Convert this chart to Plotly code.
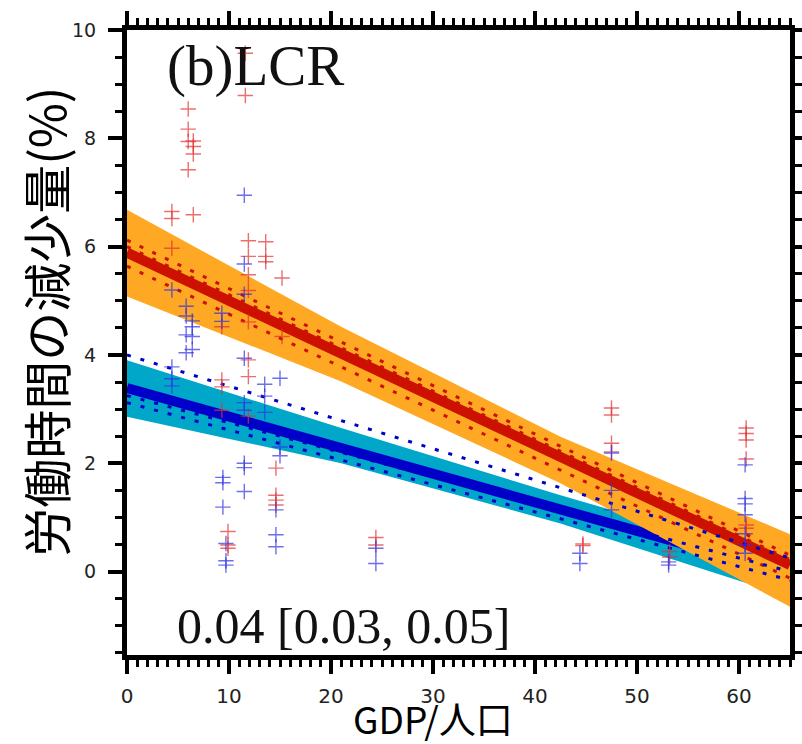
import plotly.graph_objects as go

# ---------------- data ----------------
red_x = [4.4, 4.4, 4.4,
         6.0, 6.0, 6.0, 6.0,
         6.5, 6.5, 6.5, 6.5,
         9.3, 9.3, 9.3, 9.3,
         9.9, 9.9, 9.9,
         11.6, 11.6,
         11.9, 11.9, 11.9, 11.9, 11.9, 11.9, 11.9, 11.9,
         13.6, 13.6, 13.6,
         14.6, 14.6, 14.6, 14.6,
         15.2, 15.2,
         24.4, 24.4,
         44.7, 44.7,
         47.5, 47.5, 47.5, 47.5,
         53.2, 53.2,
         60.7, 60.7, 60.7, 60.7, 60.7, 60.7]
red_y = [6.65, 6.52, 5.97,
         8.54, 8.17, 7.94, 7.42,
         7.95, 7.85, 7.71, 6.59,
         4.52, 3.54, 3.41, 2.98,
         0.74, 0.49, 0.43,
         9.57, 8.79,
         6.11, 5.82, 5.48, 5.19, 4.61, 3.91, 3.60, 2.87,
         6.09, 5.82, 5.72,
         1.91, 1.41, 1.32, 1.23,
         5.42, 4.34,
         0.63, 0.49,
         0.51, 0.48,
         3.02, 2.89, 2.37, 2.21,
         0.37, 0.27,
         2.65, 2.55, 2.43, 2.08, 0.86, 0.80]

blue_x = [4.4, 4.4, 4.4, 4.4,
          5.8, 5.8, 5.8, 5.8,
          6.4, 6.4, 6.4, 6.4,
          9.3, 9.3,
          9.4, 9.4, 9.4,
          9.7, 9.7, 9.7,
          11.5, 11.5, 11.5, 11.5, 11.5, 11.5, 11.5, 11.5, 11.5,
          13.5, 13.5, 13.5,
          15.0, 15.0, 15.0,
          14.6, 14.6, 14.6,
          24.4, 24.4,
          44.4, 44.4,
          47.5, 47.5, 47.5,
          53.1, 53.1,
          60.6, 60.6, 60.6, 60.6, 60.6, 60.6, 60.6]
blue_y = [5.20, 3.78, 3.56, 3.43,
          4.90, 4.72, 4.37, 4.04,
          4.63, 4.52, 4.34, 4.10,
          4.77, 4.62,
          1.74, 1.64, 1.19,
          0.52, 0.20, 0.12,
          6.95, 5.68, 5.12, 3.94, 3.12, 2.98, 2.00, 1.92, 1.48,
          3.46, 3.24, 2.94,
          3.57, 2.30, 2.14,
          1.14, 0.68, 0.46,
          0.43, 0.15,
          0.34, 0.15,
          2.19, 1.50, 1.14,
          0.18, 0.12,
          1.97, 1.35, 1.25, 1.05, 0.70, 0.50, 0.34]

# confidence bands
orange_x = [0, 21, 42.5, 65]
orange_top = [6.68, 4.52, 2.49, 0.69]
orange_bot = [5.08, 3.51, 1.63, -0.65]

cyan_x = [0, 21, 42.5, 60.4, 65]
cyan_top = [3.90, 2.65, 1.41, 0.43, 0.18]
cyan_bot = [2.86, 2.00, 0.89, -0.19, -0.45]

# regression lines (start x=0, end x=65)
line_x = [0, 65]
red_fit = [5.89, 0.12]
blue_fit = [3.39, -0.04]
red_members = [[6.12, 0.30], [6.00, 0.22], [5.64, -0.12]]
blue_members = [[4.00, 0.25], [3.25, 0.00], [3.12, -0.16]]

x_ticks = [0, 10, 20, 30, 40, 50, 60]
y_ticks = [0, 2, 4, 6, 8, 10]

ORANGE = "#FFA823"
CYAN = "#00A7C9"
RED = "#CC1100"
BLUE = "#0000C8"

fig = go.Figure()

# cyan band
fig.add_trace(go.Scatter(x=cyan_x + cyan_x[::-1], y=cyan_top + cyan_bot[::-1],
                         fill="toself", fillcolor=CYAN, line=dict(width=0),
                         mode="lines", hoverinfo="skip"))
# blue thick
fig.add_trace(go.Scatter(x=line_x, y=blue_fit, mode="lines",
                         line=dict(color=BLUE, width=10)))
# orange band
fig.add_trace(go.Scatter(x=orange_x + orange_x[::-1], y=orange_top + orange_bot[::-1],
                         fill="toself", fillcolor=ORANGE, line=dict(width=0),
                         mode="lines", hoverinfo="skip"))
# red members
for m in red_members:
    fig.add_trace(go.Scatter(x=line_x, y=m, mode="lines",
                             line=dict(color=RED, width=3, dash="4px,10px")))
# red thick
fig.add_trace(go.Scatter(x=line_x, y=red_fit, mode="lines",
                         line=dict(color=RED, width=10)))
# blue members
for m in blue_members:
    fig.add_trace(go.Scatter(x=line_x, y=m, mode="lines",
                             line=dict(color=BLUE, width=3, dash="4px,10px")))

# scatter points
fig.add_trace(go.Scatter(x=red_x, y=red_y, mode="markers",
                         marker=dict(symbol="cross-thin", size=11,
                                     line=dict(color="rgba(225,50,50,0.7)", width=1.4))))
fig.add_trace(go.Scatter(x=blue_x, y=blue_y, mode="markers",
                         marker=dict(symbol="cross-thin", size=11,
                                     line=dict(color="rgba(50,50,225,0.7)", width=1.4))))

axis_common = dict(showline=True, linewidth=5, linecolor="black", mirror="ticks",
                   ticks="outside", tickwidth=4, tickcolor="black", ticklen=14,
                   showgrid=False, zeroline=False, automargin=False)

fig.update_xaxes(range=[0, 65], tickvals=x_ticks, ticktext=[str(v) for v in x_ticks],
                 tickfont=dict(family="DejaVu Sans", size=20, color="#222"),
                 ticklabelstandoff=5,
                 minor=dict(dtick=1, tick0=0, ticklen=7, tickwidth=3, tickcolor="black",
                            ticks="outside", showgrid=False),
                 **axis_common)
fig.update_yaxes(range=[-1.54, 10], tickvals=y_ticks, ticktext=[str(v) for v in y_ticks],
                 tickfont=dict(family="DejaVu Sans", size=19, color="#222"),
                 ticklabelstandoff=8,
                 minor=dict(dtick=0.5, tick0=0, ticklen=7, tickwidth=3, tickcolor="black",
                            ticks="outside", showgrid=False),
                 **axis_common)

fig.update_layout(width=802, height=744, margin=dict(l=127, r=12, t=30, b=89),
                  plot_bgcolor="white", paper_bgcolor="white", showlegend=False,
                  annotations=[
                      dict(text="(b)LCR", x=0.0573, y=0.942, xref="paper", yref="paper",
                           xanchor="left", yanchor="middle", showarrow=False,
                           font=dict(family="Liberation Serif", size=57, color="#111")),
                      dict(text="0.04 [0.03, 0.05]", x=0.0724, y=0.0464, xref="paper", yref="paper",
                           xanchor="left", yanchor="middle", showarrow=False,
                           font=dict(family="Liberation Serif", size=50, color="#111")),
                      dict(text="GDP/人口", x=0.4615, y=-0.101, xref="paper", yref="paper",
                           xanchor="center", yanchor="middle", showarrow=False,
                           font=dict(family="Noto Sans CJK JP", size=37, color="black")),
                      dict(text="労働時間の減少量(%)", x=-0.1237, y=0.533, xref="paper", yref="paper",
                           xanchor="center", yanchor="middle", showarrow=False, textangle=-90,
                           font=dict(family="Noto Sans CJK JP", size=49, color="black")),
                  ])

fig.write_html("out.html")
